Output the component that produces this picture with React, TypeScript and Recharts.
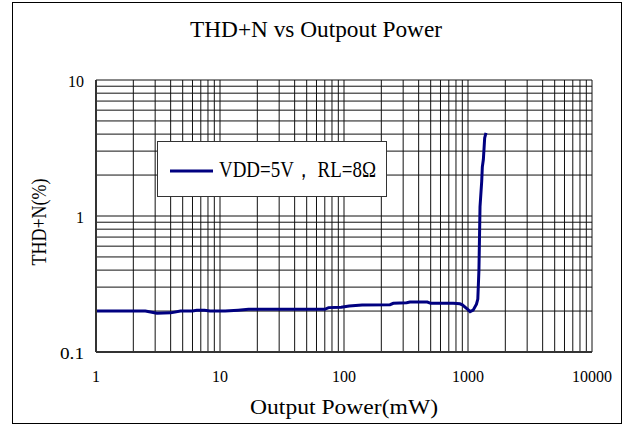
import React from "react";
import { LineChart, Line, XAxis, YAxis, CartesianGrid, Label } from "recharts";

const powerMw = [1, 2.5, 3.1, 4.0, 4.8, 6.0, 6.5, 7.5, 8.3, 11, 14, 17, 40, 70, 75, 95, 110, 140, 235, 250, 320, 340, 470, 500, 760, 860, 900, 1000, 1040, 1100, 1170, 1200, 1225, 1235, 1250, 1290, 1305, 1330, 1363, 1397];
const thdPct = [0.2, 0.2, 0.193, 0.194, 0.2, 0.2, 0.203, 0.203, 0.2, 0.2, 0.203, 0.206, 0.206, 0.206, 0.212, 0.213, 0.218, 0.222, 0.223, 0.228, 0.23, 0.233, 0.233, 0.228, 0.228, 0.226, 0.222, 0.205, 0.198, 0.203, 0.225, 0.245, 0.4, 0.61, 1.17, 1.8, 2.3, 2.6, 3.75, 4.08];

const xGridTicks = [1, 2, 3, 4, 5, 6, 7, 8, 9, 10, 20, 30, 40, 50, 60, 70, 80, 90, 100, 200, 300, 400, 500, 600, 700, 800, 900, 1000, 2000, 3000, 4000, 5000, 6000, 7000, 8000, 9000, 10000];
const yGridTicks = [0.1, 0.2, 0.3, 0.4, 0.5, 0.6, 0.7, 0.8, 0.9, 1, 2, 3, 4, 5, 6, 7, 8, 9, 10];
const xTickLabels = [1, 10, 100, 1000, 10000];
const yTickLabels = [0.1, 1, 10];

const seriesName = "VDD=5V， RL=8Ω";
const titleText = "THD+N vs Outpout Power";
const xTitle = "Output Power(mW)";
const yTitle = "THD+N(%)";

const data = powerMw.map((x, i) => ({ x, y: thdPct[i] }));

const FONT = "'Liberation Serif', 'DejaVu Serif', serif";

const SText = ({ x, y, size, sy = 1, anchor = "middle", rotate = 0, len, children }: any) => (
  <text
    x={0}
    y={0}
    transform={`translate(${x},${y}) rotate(${rotate}) scale(1,${sy})`}
    textAnchor={anchor}
    fontFamily={FONT}
    fontSize={size}
    fill="#000"
    textLength={len}
    lengthAdjust="spacingAndGlyphs"
  >
    {children}
  </text>
);

const XTick = (props: any) => {
  const { x, y, payload } = props;
  if (!xTickLabels.includes(payload.value)) return null;
  const s = String(payload.value);
  return (
    <SText x={x} y={y + 30} size={16} sy={1.1} len={s.length * 8}>
      {s}
    </SText>
  );
};

const YTick = (props: any) => {
  const { x, y, payload } = props;
  if (!yTickLabels.includes(payload.value)) return null;
  const s = String(payload.value);
  return (
    <SText x={x} y={y + 7} size={16} anchor="end" len={s.length * 8}>
      {s}
    </SText>
  );
};

const LegendBox = () => (
  <div
    style={{
      position: "absolute",
      left: 157,
      top: 141,
      width: 230,
      height: 56,
      boxSizing: "border-box",
      border: "1.5px solid #333",
      background: "#fff",
    }}
  >
    <svg width={228} height={53} style={{ display: "block" }}>
      <line x1={12} y1={29} x2={55} y2={29} stroke="#000080" strokeWidth={3} />
      <SText x={61} y={35} size={19} sy={1.2} anchor="start" len={157}>
        {seriesName}
      </SText>
    </svg>
  </div>
);

export default function App() {
  return (
    <div style={{ position: "absolute", left: 0, top: 0, width: 630, height: 432, background: "#fff" }}>
      <div
        style={{
          position: "absolute",
          left: 12,
          top: 2,
          width: 610,
          height: 422,
          boxSizing: "border-box",
          border: "1.5px solid #000",
        }}
      />
      <svg width={630} height={60} style={{ position: "absolute", left: 0, top: 0 }}>
        <SText x={316} y={37} size={21} sy={1.1} len={252}>
          {titleText}
        </SText>
      </svg>
      <div style={{ position: "absolute", left: 0, top: 0 }}>
        <LineChart width={630} height={432} data={data} margin={{ top: 80, right: 38, bottom: 50, left: 36 }}>
          <CartesianGrid stroke="#111" strokeWidth={1} />
          <XAxis
            dataKey="x"
            type="number"
            scale="log"
            domain={[1, 10000]}
            ticks={xGridTicks}
            interval={0}
            height={30}
            tickSize={0}
            tickMargin={0}
            tick={<XTick />}
            axisLine={{ stroke: "#333", strokeWidth: 2 }}
            tickLine={false}
          >
            <Label
              content={() => (
                <SText x={344} y={414} size={20} sy={1.1} len={188}>
                  {xTitle}
                </SText>
              )}
            />
          </XAxis>
          <YAxis
            type="number"
            scale="log"
            domain={[0.1, 10]}
            ticks={yGridTicks}
            interval={0}
            width={60}
            tickSize={0}
            tickMargin={12}
            tick={<YTick />}
            axisLine={{ stroke: "#333", strokeWidth: 2 }}
            tickLine={false}
            allowDataOverflow
          >
            <Label
              content={() => (
                <SText x={46} y={222} size={20} rotate={-90} len={87}>
                  {yTitle}
                </SText>
              )}
            />
          </YAxis>
          <Line
            type="linear"
            dataKey="y"
            name={seriesName}
            stroke="#000080"
            strokeWidth={3}
            dot={false}
            isAnimationActive={false}
          />
        </LineChart>
      </div>
      <LegendBox />
    </div>
  );
}
